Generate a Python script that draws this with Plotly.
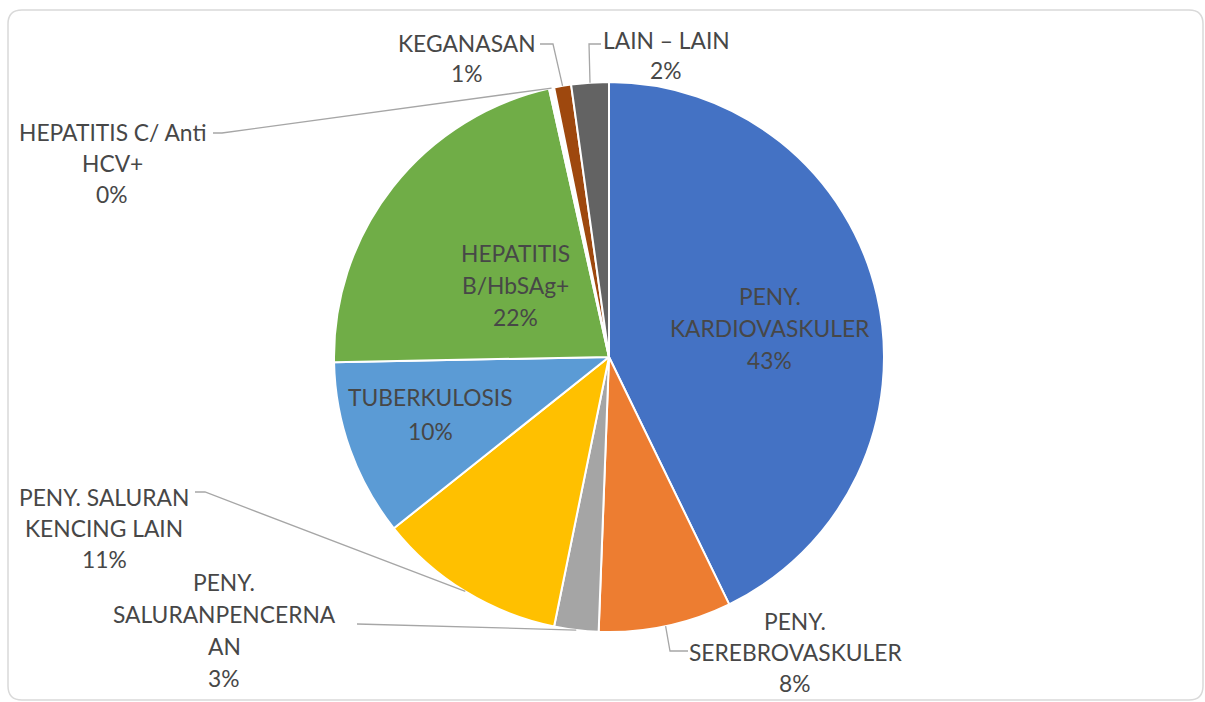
import math
import plotly.graph_objects as go

# ---- data ----
categories = ["PENY. KARDIOVASKULER", "PENY. SEREBROVASKULER", "PENY. SALURANPENCERNAAN",
              "PENY. SALURAN KENCING LAIN", "TUBERKULOSIS", "HEPATITIS B/HbSAg+",
              "HEPATITIS C/ Anti HCV+", "KEGANASAN", "LAIN – LAIN"]
values = [42.8, 7.8, 2.6, 11.1, 10.4, 21.8, 0.3, 1.0, 2.2]
label_lines = [
    ["PENY.", "KARDIOVASKULER"],
    ["PENY.", "SEREBROVASKULER"],
    ["PENY.", "SALURANPENCERNA", "AN"],
    ["PENY. SALURAN", "KENCING LAIN"],
    ["TUBERKULOSIS"],
    ["HEPATITIS", "B/HbSAg+"],
    ["HEPATITIS C/ Anti", "HCV+"],
    ["KEGANASAN"],
    ["LAIN – LAIN"],
]
colors = ["#4472C4", "#ED7D31", "#A5A5A5", "#FFC000", "#5B9BD5", "#70AD47",
          "#FFFFFF", "#9E480E", "#636363"]

W, H = 1205, 702
CX, CY, R = 609, 357, 275

# label layout: (center x px, first-line y px, line step, leader points in px or None)
label_pos = [
    (770, 296, 32, None),
    (795, 621, 31, [(688, 651), (670, 651)]),
    (224, 582, 32, [(357, 624)]),
    (104, 497, 31, [(195, 492), (205, 492)]),
    (430, 397, 34, None),
    (515, 253, 32, None),
    (112, 132, 31, [(213, 133), (222, 133)]),
    (467, 43, 30, [(540, 44), (553, 44)]),
    (666, 40, 30, [(601, 44), (589, 44)]),
]

fig = go.Figure(go.Pie(
    labels=categories, values=values, sort=False, direction="clockwise",
    rotation=0, textinfo="none", hoverinfo="label+percent",
    marker=dict(colors=colors, line=dict(color="white", width=2)),
    domain=dict(x=[(CX - R) / W, (CX + R) / W], y=[1 - (CY + R) / H, 1 - (CY - R) / H]),
    showlegend=False,
))

total = sum(values)
annotations = []
shapes = []
cum = 0.0
for i, v in enumerate(values):
    mid = (cum + v / 2) / total * 2 * math.pi
    cum += v
    pct = f"{round(v / total * 100):.0f}%"
    lines = label_lines[i] + [pct]
    cx, y0, ls, leader = label_pos[i]
    for k, t in enumerate(lines):
        annotations.append(dict(
            x=cx / W, y=1 - (y0 + k * ls) / H, xref="paper", yref="paper",
            text=t, showarrow=False, xanchor="center", yanchor="middle",
            font=dict(family="Lato, Calibri, sans-serif", size=22.8, color="#474747")))
    if leader:
        ex = CX + R * math.sin(mid)
        ey = CY - R * math.cos(mid)
        pts = leader + [(ex, ey)]
        path = "M " + " L ".join(f"{px / W:.5f},{1 - py / H:.5f}" for px, py in pts)
        shapes.append(dict(type="path", path=path, xref="paper", yref="paper",
                           line=dict(color="#A6A6A6", width=1.3)))

# rounded chart frame
x0, y0p, x1, y1p, rr = 8, 10, 1203, 700, 14
def P(px, py):
    return f"{px / W:.5f},{1 - py / H:.5f}"
frame = (f"M {P(x0 + rr, y0p)} L {P(x1 - rr, y0p)} Q {P(x1, y0p)} {P(x1, y0p + rr)} "
         f"L {P(x1, y1p - rr)} Q {P(x1, y1p)} {P(x1 - rr, y1p)} L {P(x0 + rr, y1p)} "
         f"Q {P(x0, y1p)} {P(x0, y1p - rr)} L {P(x0, y0p + rr)} Q {P(x0, y0p)} {P(x0 + rr, y0p)} Z")
shapes.append(dict(type="path", path=frame, xref="paper", yref="paper",
                   line=dict(color="#D9D9D9", width=1.5), layer="below"))

fig.update_layout(
    width=W, height=H, margin=dict(l=0, r=0, t=0, b=0),
    paper_bgcolor="white", plot_bgcolor="white",
    annotations=annotations, shapes=shapes,
)
fig.write_html("out.html", config={"displayModeBar": False},
               post_script="document.body.style.margin='0';document.body.style.overflow='hidden';")
